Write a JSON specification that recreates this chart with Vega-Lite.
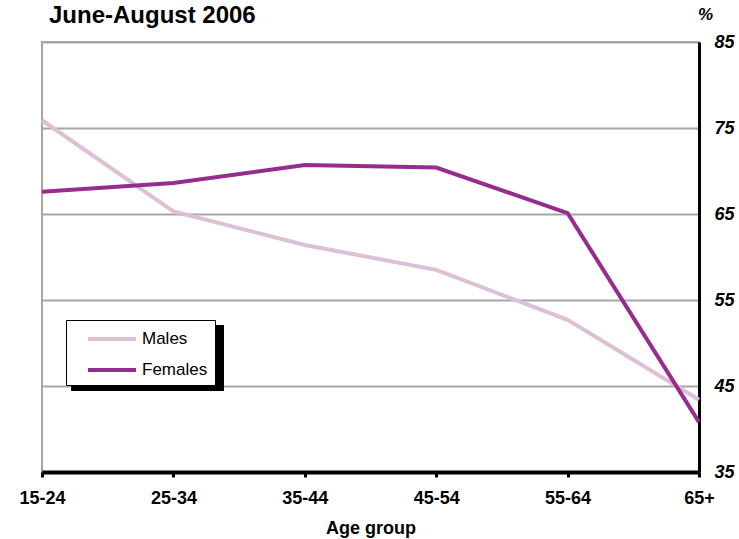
{
  "$schema": "https://vega.github.io/schema/vega-lite/v6.json",
  "width": 657,
  "height": 430,
  "autosize": {"type": "none"},
  "padding": {"left": 42, "top": 42, "right": 40, "bottom": 67},
  "background": "white",
  "title": {
    "text": "June-August 2006",
    "anchor": "start",
    "frame": "group",
    "orient": "top",
    "font": "Liberation Sans",
    "fontSize": 24,
    "fontWeight": "bold",
    "color": "black",
    "baseline": "alphabetic",
    "offset": -42,
    "dx": 7
  },
  "config": {
    "view": {"stroke": "#A6A6A6", "strokeWidth": 2},
    "font": "Liberation Sans"
  },
  "data": {
    "values": [
      {"age": "15-24", "sex": "Males", "pct": 75.9},
      {"age": "25-34", "sex": "Males", "pct": 65.3},
      {"age": "35-44", "sex": "Males", "pct": 61.4},
      {"age": "45-54", "sex": "Males", "pct": 58.5},
      {"age": "55-64", "sex": "Males", "pct": 52.7},
      {"age": "65+", "sex": "Males", "pct": 43.4},
      {"age": "15-24", "sex": "Females", "pct": 67.6},
      {"age": "25-34", "sex": "Females", "pct": 68.6},
      {"age": "35-44", "sex": "Females", "pct": 70.7},
      {"age": "45-54", "sex": "Females", "pct": 70.4},
      {"age": "55-64", "sex": "Females", "pct": 65.1},
      {"age": "65+", "sex": "Females", "pct": 40.8}
    ]
  },
  "encoding": {
    "x": {
      "field": "age",
      "type": "ordinal",
      "sort": null,
      "scale": {"type": "point", "padding": 0},
      "axis": {
        "title": "Age group",
        "titleFont": "Liberation Sans",
        "titleFontSize": 18,
        "titleFontWeight": "bold",
        "titleColor": "black",
        "titlePadding": 12,
        "labelAngle": 0,
        "labelFont": "Liberation Sans",
        "labelFontSize": 18,
        "labelFontWeight": "bold",
        "labelColor": "black",
        "labelPadding": 12,
        "domainColor": "black",
        "domainWidth": 4,
        "tickColor": "black",
        "tickWidth": 3,
        "tickSize": 5,
        "grid": false
      }
    },
    "y": {
      "field": "pct",
      "type": "quantitative",
      "scale": {"domain": [35, 85], "nice": false, "zero": false},
      "axis": {
        "orient": "right",
        "values": [35, 45, 55, 65, 75, 85],
        "title": "%",
        "titleAngle": 0,
        "titleX": 6,
        "titleY": -23,
        "titleAlign": "center",
        "titleBaseline": "alphabetic",
        "titleFont": "Liberation Sans",
        "titleFontSize": 17,
        "titleFontWeight": "bold",
        "titleFontStyle": "italic",
        "titleColor": "black",
        "labelFont": "Liberation Sans",
        "labelFontSize": 18,
        "labelFontWeight": "bold",
        "labelFontStyle": "italic",
        "labelColor": "black",
        "labelPadding": 15,
        "labelFlush": false,
        "ticks": false,
        "domainColor": "black",
        "domainWidth": 3,
        "grid": true,
        "gridColor": "#A6A6A6",
        "gridWidth": 2
      }
    }
  },
  "layer": [
    {
      "mark": {"type": "line", "strokeWidth": 4, "stroke": "transparent"},
      "encoding": {
        "strokeDash": {
          "field": "sex",
          "type": "nominal",
          "scale": {"range": [[1, 0], [1, 0]]},
          "legend": {
            "title": null,
            "orient": "none",
            "legendX": 29,
            "legendY": 283,
            "zindex": 1,
            "fillColor": "black",
            "strokeColor": "black",
            "padding": 7,
            "symbolType": "M0.3,0H5.1",
            "symbolSize": 400,
            "symbolStrokeWidth": 4,
            "symbolStrokeColor": "black",
            "labelFont": "Liberation Sans",
            "labelFontSize": 17,
            "labelColor": "black",
            "labelOffset": 114,
            "labelExpr": "''",
            "rowPadding": 11,
            "offset": 0
          }
        }
      }
    },
    {
      "mark": {"type": "line", "strokeWidth": 4},
      "encoding": {
        "color": {
          "field": "sex",
          "type": "nominal",
          "scale": {"domain": ["Males", "Females"], "range": ["#DDBFD6", "#962C8D"]},
          "legend": {
            "title": null,
            "orient": "none",
            "legendX": 24,
            "legendY": 278,
            "zindex": 2,
            "fillColor": "white",
            "strokeColor": "black",
            "padding": 7,
            "symbolType": "M0.3,0H5.1",
            "symbolSize": 400,
            "symbolStrokeWidth": 4,
            "symbolFillColor": "transparent",
            "labelFont": "Liberation Sans",
            "labelFontSize": 17,
            "labelColor": "black",
            "labelOffset": 45,
            "rowPadding": 11,
            "offset": 0
          }
        }
      }
    }
  ]
}
